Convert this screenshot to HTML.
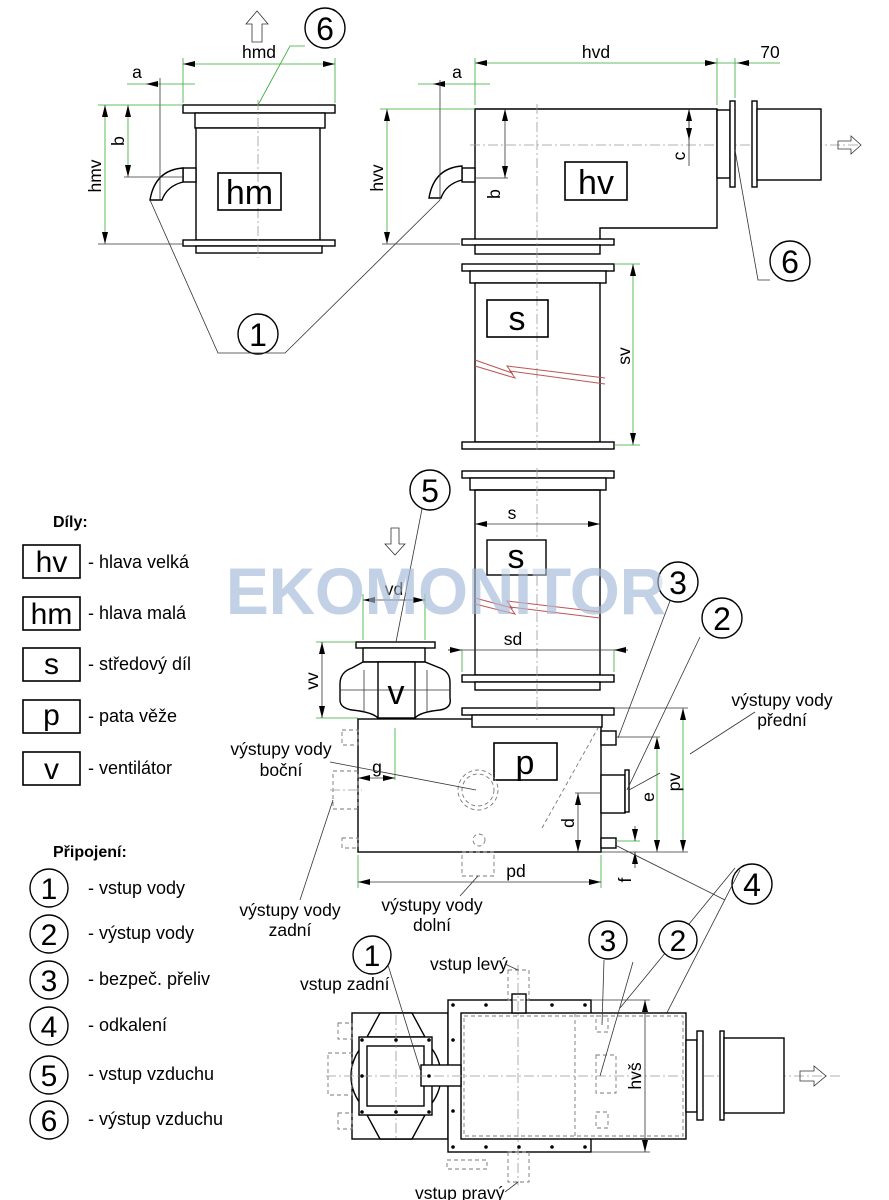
<!DOCTYPE html>
<html><head><meta charset="utf-8"><style>
html,body{margin:0;padding:0;background:#fff}
svg{display:block}
text{font-family:"Liberation Sans",Arial,sans-serif;fill:#000}
.k{stroke:#000;stroke-width:1.6;fill:none}
.kf{stroke:#000;stroke-width:1.4;fill:#fff}
.kn{stroke:#000;stroke-width:1.4;fill:none}
.d{stroke:#777;stroke-width:0.9;fill:none;stroke-dasharray:4 3}
.c{stroke:#999;stroke-width:0.8;fill:none;stroke-dasharray:10 3 2 3}
.g{stroke:#3a3;stroke-width:0.8;fill:none}
.l{stroke:#333;stroke-width:0.8;fill:none}
.t{font-size:17.5px}
.lg{font-size:18px}
.b{font-size:34px}
</style></head><body>
<svg width="889" height="1200" viewBox="0 0 889 1200" xmlns="http://www.w3.org/2000/svg">
<defs>
<marker id="a" markerWidth="12" markerHeight="6" refX="12" refY="3" orient="auto-start-reverse" markerUnits="userSpaceOnUse"><path d="M0,0 L12,3 L0,6 z" fill="#000"/></marker>
</defs>

<!-- watermark -->
<text x="226" y="614" style="font-size:66px;font-weight:bold;fill:#c3d1e6" textLength="440" lengthAdjust="spacingAndGlyphs">EKOMONITOR</text>

<!-- ===== hm ===== -->
<path d="M252,42 h10 v-18 h6 l-11,-13 l-11,13 h6 z" class="l" fill="#fff"/>
<rect x="183" y="105" width="152" height="8" class="kf"/>
<rect x="195" y="113" width="130" height="15" class="kf"/>
<rect x="196" y="128" width="124" height="112" class="kf"/>
<rect x="183" y="240" width="152" height="6" class="kf"/>
<rect x="196" y="246" width="126" height="7" class="kf"/>
<line x1="258" y1="100" x2="258" y2="258" class="c"/>
<rect x="218" y="173" width="63" height="37" class="k"/>
<text x="249.5" y="204" class="b" text-anchor="middle">hm</text>
<rect x="183" y="168" width="13" height="14" class="kf"/>
<path d="M183,168 q-28,2 -33,32 h12 q5,-14 21,-18 z" class="kf"/>
<line x1="183" y1="58" x2="183" y2="103" class="g"/>
<line x1="335" y1="58" x2="335" y2="103" class="g"/>
<line x1="183" y1="64" x2="335" y2="64" class="g" marker-start="url(#a)" marker-end="url(#a)"/>
<text x="259" y="58" class="t" text-anchor="middle">hmd</text>
<line x1="127" y1="84" x2="195" y2="84" class="g"/>
<line x1="158" y1="84" x2="146" y2="84" class="g" marker-end="url(#a)"/>
<line x1="160" y1="78" x2="160" y2="200" class="l"/>
<text x="137" y="78" class="t" text-anchor="middle">a</text>
<line x1="98" y1="105" x2="183" y2="105" class="g"/>
<line x1="98" y1="244" x2="183" y2="244" class="l"/>
<line x1="105" y1="105" x2="105" y2="244" class="g" marker-start="url(#a)" marker-end="url(#a)"/>
<text transform="translate(101,176) rotate(-90)" class="t" text-anchor="middle">hmv</text>
<line x1="128" y1="105" x2="128" y2="177" class="g" marker-start="url(#a)" marker-end="url(#a)"/>
<line x1="124" y1="177" x2="183" y2="177" class="l"/>
<text transform="translate(124,141) rotate(-90)" class="t" text-anchor="middle">b</text>
<circle cx="325" cy="28" r="20" class="kf"/>
<text x="325" y="40" style="font-size:32px" text-anchor="middle">6</text>
<polyline points="305,46 290,46 258,105" class="g"/>

<!-- ===== hv ===== -->
<path d="M475,109 H717 V228 H600 V243 H475 Z" class="kf"/>
<rect x="462" y="239" width="152" height="6" class="kf"/>
<rect x="475" y="245" width="125" height="9" class="kf"/>
<line x1="537" y1="104" x2="537" y2="260" class="c"/>
<line x1="470" y1="145" x2="860" y2="145" class="c"/>
<rect x="565" y="162" width="62" height="38" class="k"/>
<text x="596" y="194" class="b" text-anchor="middle">hv</text>
<rect x="717" y="110" width="13" height="68" class="kf"/>
<rect x="730" y="101" width="5" height="86" class="kf"/>
<rect x="752" y="101" width="5" height="86" class="kf"/>
<rect x="757" y="109" width="64" height="71" class="kf"/>
<path d="M838,141 h13 v-5 l10,9 l-10,9 v-5 h-13 z" class="l" fill="#fff"/>
<rect x="462" y="168" width="13" height="14" class="kf"/>
<path d="M462,166 q-28,2 -33,32 h12 q5,-14 21,-18 z" class="kf"/>
<line x1="475" y1="58" x2="475" y2="105" class="g"/>
<line x1="717" y1="58" x2="717" y2="105" class="g"/>
<line x1="735" y1="58" x2="735" y2="98" class="g"/>
<line x1="475" y1="63" x2="717" y2="63" class="g" marker-start="url(#a)" marker-end="url(#a)"/>
<line x1="717" y1="63" x2="780" y2="63" class="g"/>
<line x1="750" y1="63" x2="737" y2="63" class="g" marker-end="url(#a)"/>
<text x="596" y="58" class="t" text-anchor="middle">hvd</text>
<text x="770" y="58" class="t" text-anchor="middle">70</text>
<line x1="418" y1="84" x2="490" y2="84" class="g"/>
<line x1="445" y1="84" x2="433" y2="84" class="g" marker-end="url(#a)"/>
<line x1="440" y1="80" x2="440" y2="200" class="l"/>
<text x="457" y="78" class="t" text-anchor="middle">a</text>
<line x1="380" y1="109" x2="475" y2="109" class="g"/>
<line x1="382" y1="244" x2="460" y2="244" class="l"/>
<line x1="387" y1="109" x2="387" y2="244" class="g" marker-start="url(#a)" marker-end="url(#a)"/>
<text transform="translate(383,178) rotate(-90)" class="t" text-anchor="middle">hvv</text>
<line x1="505" y1="109" x2="505" y2="178" class="l" marker-start="url(#a)" marker-end="url(#a)"/>
<line x1="475" y1="178" x2="508" y2="178" class="l"/>
<text transform="translate(500,194) rotate(-90)" class="t" text-anchor="middle">b</text>
<line x1="689" y1="109" x2="689" y2="166" class="l"/>
<line x1="689" y1="109" x2="689" y2="140" class="l" marker-start="url(#a)" marker-end="url(#a)"/>
<text transform="translate(685,156) rotate(-90)" class="t" text-anchor="middle">c</text>
<circle cx="790" cy="261" r="20" class="kf"/>
<text x="790" y="273" style="font-size:32px" text-anchor="middle">6</text>
<polyline points="770,280 758,280 735,150" class="l"/>
<circle cx="258" cy="334" r="20" class="kf"/>
<text x="258" y="346" style="font-size:32px" text-anchor="middle">1</text>
<polyline points="150,200 218,353 285,353 440,200" class="l"/>

<!-- ===== s1 ===== -->
<rect x="462" y="264" width="152" height="7" class="kf"/>
<rect x="470" y="271" width="136" height="12" class="kf"/>
<rect x="475" y="283" width="125" height="159" class="kf"/>
<rect x="462" y="442" width="152" height="7" class="kf"/>
<line x1="537" y1="260" x2="537" y2="452" class="c"/>
<rect x="487" y="300" width="61" height="37" class="k"/>
<text x="517" y="330" class="b" text-anchor="middle">s</text>
<path d="M475,360 L512,373 L507,366 L605,378 M475,366 L515,378 L510,371 L605,384" stroke="#b55" stroke-width="1" fill="none"/>
<line x1="614" y1="264" x2="640" y2="264" class="g"/>
<line x1="614" y1="445" x2="640" y2="445" class="g"/>
<line x1="633" y1="264" x2="633" y2="445" class="g" marker-start="url(#a)" marker-end="url(#a)"/>
<text transform="translate(630,356) rotate(-90)" class="t" text-anchor="middle">sv</text>

<!-- ===== s2 ===== -->
<rect x="462" y="471" width="152" height="7" class="kf"/>
<rect x="470" y="478" width="136" height="12" class="kf"/>
<rect x="475" y="490" width="125" height="185" class="kn"/>
<rect x="462" y="675" width="152" height="7" class="kf"/>
<rect x="475" y="682" width="125" height="8" class="kf"/>
<line x1="537" y1="468" x2="537" y2="720" class="c"/>
<rect x="487" y="540" width="59" height="35" class="kf"/>
<text x="516" y="568" class="b" text-anchor="middle">s</text>
<path d="M475,598 L512,608 L507,601 L600,612 M475,604 L515,614 L510,607 L600,618" stroke="#b55" stroke-width="1" fill="none"/>
<line x1="475" y1="524" x2="600" y2="524" class="l" marker-start="url(#a)" marker-end="url(#a)"/>
<text x="512" y="519" class="t" text-anchor="middle">s</text>
<line x1="448" y1="650" x2="628" y2="650" class="l"/>
<line x1="448" y1="650" x2="462" y2="650" class="l" marker-end="url(#a)"/>
<line x1="628" y1="650" x2="614" y2="650" class="l" marker-end="url(#a)"/>
<line x1="462" y1="650" x2="462" y2="672" class="g"/>
<line x1="614" y1="650" x2="614" y2="672" class="g"/>
<text x="513" y="645" class="t" text-anchor="middle">sd</text>

<!-- ===== v ===== -->
<rect x="356" y="642" width="79" height="6" class="kf"/>
<rect x="363" y="648" width="62" height="14" class="kf"/>
<path d="M363,662 L352,668 Q340,672 340,684 V700 Q340,708 352,710 Q372,712 378,718 H415 Q420,712 440,710 Q452,708 450,698 V682 Q450,672 440,668 L425,662 Z" class="kf"/>
<rect x="378" y="662" width="37" height="56" class="kf"/>
<line x1="364" y1="670" x2="364" y2="712" class="l"/><line x1="427" y1="670" x2="427" y2="712" class="l"/>
<line x1="340" y1="690" x2="450" y2="690" class="l"/>
<text x="396" y="704" class="b" text-anchor="middle">v</text>
<line x1="363" y1="594" x2="363" y2="640" class="g"/>
<line x1="425" y1="594" x2="425" y2="640" class="g"/>
<line x1="363" y1="600" x2="425" y2="600" class="l" marker-start="url(#a)" marker-end="url(#a)"/>
<text x="394" y="595" class="t" text-anchor="middle">vd</text>
<line x1="316" y1="642" x2="356" y2="642" class="g"/>
<line x1="316" y1="718" x2="358" y2="718" class="g"/>
<line x1="322" y1="642" x2="322" y2="718" class="l" marker-start="url(#a)" marker-end="url(#a)"/>
<text transform="translate(318,681) rotate(-90)" class="t" text-anchor="middle">vv</text>
<path d="M391,528 h8 v16 h6 l-10,11 l-10,-11 h6 z" class="l" fill="#fff"/>
<circle cx="430" cy="490" r="20" class="kf"/>
<text x="430" y="502" style="font-size:32px" text-anchor="middle">5</text>
<line x1="422" y1="509" x2="396" y2="642" class="l"/>

<!-- ===== p ===== -->
<rect x="358" y="719" width="243" height="133" class="kf"/>
<rect x="462" y="708" width="152" height="7" class="kf"/>
<rect x="472" y="715" width="130" height="12" class="kf"/>
<line x1="537" y1="700" x2="537" y2="720" class="c"/>
<rect x="494" y="743" width="63" height="37" class="k"/>
<text x="525" y="774" class="b" text-anchor="middle">p</text>
<circle cx="478" cy="790" r="20" class="d"/>
<circle cx="478" cy="790" r="16" class="d"/>
<circle cx="479" cy="840" r="6" class="d"/>
<line x1="542" y1="828" x2="598" y2="728" class="d"/>
<rect x="462" y="852" width="32" height="24" class="d"/>
<rect x="342" y="730" width="16" height="15" class="d"/>
<rect x="333" y="771" width="25" height="38" class="d"/>
<rect x="342" y="838" width="16" height="10" class="d"/>
<line x1="330" y1="790" x2="362" y2="790" class="c"/>
<rect x="601" y="731" width="15" height="14" class="kf"/>
<rect x="601" y="775" width="24" height="38" class="kf"/>
<rect x="625" y="770" width="4" height="42" class="kf"/>
<rect x="601" y="838" width="15" height="10" class="kf"/>
<line x1="358" y1="855" x2="358" y2="888" class="g"/>
<line x1="601" y1="855" x2="601" y2="888" class="g"/>
<line x1="358" y1="882" x2="601" y2="882" class="l" marker-start="url(#a)" marker-end="url(#a)"/>
<text x="516" y="877" class="t" text-anchor="middle">pd</text>
<line x1="395" y1="728" x2="395" y2="780" class="g"/>
<line x1="358" y1="778" x2="395" y2="778" class="l" marker-start="url(#a)" marker-end="url(#a)"/>
<text x="377" y="773" class="t" text-anchor="middle">g</text>
<line x1="575" y1="793" x2="601" y2="793" class="l"/>
<line x1="578" y1="793" x2="578" y2="852" class="l" marker-start="url(#a)" marker-end="url(#a)"/>
<text transform="translate(574,823) rotate(-90)" class="t" text-anchor="middle">d</text>
<line x1="614" y1="708" x2="688" y2="708" class="l"/>
<line x1="601" y1="852" x2="688" y2="852" class="l"/>
<line x1="616" y1="737" x2="660" y2="737" class="l"/>
<line x1="657" y1="737" x2="657" y2="852" class="g" marker-start="url(#a)" marker-end="url(#a)"/>
<text transform="translate(654,797) rotate(-90)" class="t" text-anchor="middle">e</text>
<line x1="683" y1="708" x2="683" y2="852" class="g" marker-start="url(#a)" marker-end="url(#a)"/>
<text transform="translate(680,782) rotate(-90)" class="t" text-anchor="middle">pv</text>
<line x1="616" y1="841" x2="640" y2="841" class="g"/>
<line x1="635" y1="826" x2="635" y2="841" class="l" marker-end="url(#a)"/>
<line x1="635" y1="868" x2="635" y2="852" class="l" marker-end="url(#a)"/>
<text transform="translate(631,880) rotate(-90)" class="t" text-anchor="middle">f</text>
<circle cx="678" cy="582" r="20" class="kf"/>
<text x="678" y="594" style="font-size:32px" text-anchor="middle">3</text>
<line x1="670" y1="601" x2="618" y2="738" class="l"/>
<circle cx="722" cy="618" r="20" class="kf"/>
<text x="722" y="630" style="font-size:32px" text-anchor="middle">2</text>
<line x1="700" y1="637" x2="627" y2="790" class="l"/>
<circle cx="752" cy="884" r="20" class="kf"/>
<text x="752" y="896" style="font-size:32px" text-anchor="middle">4</text>
<line x1="615" y1="845" x2="725" y2="900" class="l"/>
<line x1="735" y1="868" x2="620" y2="1008" class="l"/>
<line x1="740" y1="870" x2="630" y2="1085" class="l"/>
<line x1="755" y1="712" x2="690" y2="754" class="l"/>
<line x1="660" y1="773" x2="629" y2="790" class="l"/>
<text x="782" y="706" class="t" text-anchor="middle">výstupy vody</text>
<text x="782" y="726" class="t" text-anchor="middle">přední</text>
<text x="281" y="755" class="t" text-anchor="middle">výstupy vody</text>
<text x="281" y="776" class="t" text-anchor="middle">boční</text>
<line x1="330" y1="762" x2="476" y2="790" class="l"/>
<text x="290" y="916" class="t" text-anchor="middle">výstupy vody</text>
<text x="290" y="936" class="t" text-anchor="middle">zadní</text>
<line x1="300" y1="900" x2="333" y2="800" class="l"/>
<text x="432" y="911" class="t" text-anchor="middle">výstupy vody</text>
<text x="432" y="931" class="t" text-anchor="middle">dolní</text>
<line x1="460" y1="896" x2="478" y2="876" class="l"/>

<!-- ===== legend ===== -->
<text x="53" y="527" style="font-size:16px;font-weight:bold">Díly:</text>
<g>
<rect x="23" y="545" width="57" height="33" class="k"/><text x="51.5" y="572" text-anchor="middle" style="font-size:30px">hv</text><text x="88" y="568" class="lg">- hlava velká</text>
<rect x="23" y="597" width="57" height="33" class="k"/><text x="51.5" y="624" text-anchor="middle" style="font-size:30px">hm</text><text x="88" y="619" class="lg">- hlava malá</text>
<rect x="23" y="648" width="57" height="33" class="k"/><text x="51.5" y="674" text-anchor="middle" style="font-size:30px">s</text><text x="88" y="670" class="lg">- středový díl</text>
<rect x="23" y="700" width="57" height="33" class="k"/><text x="51.5" y="725" text-anchor="middle" style="font-size:30px">p</text><text x="88" y="722" class="lg">- pata věže</text>
<rect x="23" y="752" width="57" height="33" class="k"/><text x="51.5" y="779" text-anchor="middle" style="font-size:30px">v</text><text x="88" y="774" class="lg">- ventilátor</text>
</g>
<text x="53" y="857" style="font-size:16px;font-weight:bold">Připojení:</text>
<g>
<circle cx="49" cy="888" r="19" class="kf"/><text x="49" y="899" style="font-size:30px" text-anchor="middle">1</text><text x="88" y="894" class="lg">- vstup vody</text>
<circle cx="49" cy="934" r="19" class="kf"/><text x="49" y="945" style="font-size:30px" text-anchor="middle">2</text><text x="88" y="939" class="lg">- výstup vody</text>
<circle cx="49" cy="980" r="19" class="kf"/><text x="49" y="991" style="font-size:30px" text-anchor="middle">3</text><text x="88" y="985" class="lg">- bezpeč. přeliv</text>
<circle cx="49" cy="1026" r="19" class="kf"/><text x="49" y="1037" style="font-size:30px" text-anchor="middle">4</text><text x="88" y="1031" class="lg">- odkalení</text>
<circle cx="49" cy="1075" r="19" class="kf"/><text x="49" y="1086" style="font-size:30px" text-anchor="middle">5</text><text x="88" y="1080" class="lg">- vstup vzduchu</text>
<circle cx="49" cy="1120" r="19" class="kf"/><text x="49" y="1131" style="font-size:30px" text-anchor="middle">6</text><text x="88" y="1125" class="lg">- výstup vzduchu</text>
</g>

<!-- ===== bottom view ===== -->
<rect x="352" y="1013" width="96" height="126" class="kf"/>
<circle cx="396" cy="1076" r="45" class="kf"/>
<path d="M380,1013 H412 L425,1037 H367 Z M367,1115 H425 L412,1139 H380 Z" class="kf"/>
<rect x="359" y="1037" width="73" height="78" class="kf"/>
<rect x="367" y="1046" width="57" height="60" class="kf"/>
<rect x="448" y="1000" width="143" height="152" class="kf"/>
<rect x="461" y="1013" width="225" height="126" class="kf"/>
<rect x="464" y="1016" width="219" height="120" class="d"/>
<line x1="575" y1="1013" x2="575" y2="1139" class="d"/>
<rect x="421" y="1065" width="40" height="21" class="kf"/>
<rect x="512" y="994" width="14" height="19" class="kf"/>
<rect x="508" y="970" width="21" height="30" class="d"/>
<rect x="508" y="1152" width="21" height="30" class="d"/>
<rect x="338" y="1023" width="14" height="16" class="d"/>
<rect x="328" y="1053" width="24" height="42" class="d"/>
<rect x="338" y="1113" width="14" height="16" class="d"/>
<rect x="447" y="1160" width="40" height="9" class="d"/>
<rect x="596" y="1016" width="12" height="16" class="d"/>
<rect x="596" y="1055" width="20" height="38" class="d"/>
<rect x="596" y="1112" width="12" height="16" class="d"/>
<line x1="326" y1="1076" x2="840" y2="1076" class="c"/>
<line x1="518" y1="965" x2="518" y2="1185" class="c"/>
<line x1="396" y1="1015" x2="396" y2="1138" class="c"/>
<g fill="#000">
<circle cx="362" cy="1040" r="1.8"/><circle cx="396" cy="1040" r="1.8"/><circle cx="429" cy="1040" r="1.8"/>
<circle cx="362" cy="1112" r="1.8"/><circle cx="396" cy="1112" r="1.8"/><circle cx="429" cy="1112" r="1.8"/>
<circle cx="362" cy="1076" r="1.8"/><circle cx="429" cy="1076" r="1.8"/>
<circle cx="453" cy="1005" r="1.8"/><circle cx="486" cy="1005" r="1.8"/><circle cx="552" cy="1005" r="1.8"/><circle cx="585" cy="1005" r="1.8"/>
<circle cx="453" cy="1147" r="1.8"/><circle cx="486" cy="1147" r="1.8"/><circle cx="519" cy="1147" r="1.8"/><circle cx="552" cy="1147" r="1.8"/><circle cx="585" cy="1147" r="1.8"/>
<circle cx="453" cy="1040" r="1.8"/><circle cx="453" cy="1111" r="1.8"/>
</g>
<rect x="686" y="1040" width="11" height="72" class="kf"/>
<rect x="697" y="1031" width="6" height="89" class="kf"/>
<rect x="720" y="1031" width="4" height="89" class="kf"/>
<rect x="724" y="1038" width="60" height="75" class="kf"/>
<path d="M800,1071 h14 v-5 l12,10 l-12,10 v-5 h-14 z" class="l" fill="#fff"/>
<line x1="591" y1="1000" x2="650" y2="1000" class="l"/>
<line x1="591" y1="1152" x2="650" y2="1152" class="l"/>
<line x1="645" y1="1000" x2="645" y2="1152" class="l" marker-start="url(#a)" marker-end="url(#a)"/>
<text transform="translate(641,1076) rotate(-90)" class="t" text-anchor="middle">hvš</text>
<circle cx="372" cy="955" r="19" class="kf"/><text x="372" y="966" style="font-size:30px" text-anchor="middle">1</text>
<line x1="388" y1="965" x2="421" y2="1072" class="l"/>
<circle cx="608" cy="940" r="19" class="kf"/><text x="608" y="951" style="font-size:30px" text-anchor="middle">3</text>
<line x1="604" y1="960" x2="602" y2="1025" class="l"/>
<circle cx="678" cy="940" r="19" class="kf"/><text x="678" y="951" style="font-size:30px" text-anchor="middle">2</text>
<line x1="633" y1="962" x2="600" y2="1076" class="l"/>
<text x="300" y="990" class="t">vstup zadní</text>
<text x="430" y="970" class="t">vstup levý</text>
<line x1="505" y1="964" x2="518" y2="970" class="l"/>
<text x="415" y="1199" class="t">vstup pravý</text>
<line x1="505" y1="1192" x2="518" y2="1182" class="l"/>

<!-- watermark overlay over s section -->
<text x="226" y="614" style="font-size:66px;font-weight:bold;fill:#c3d1e6;opacity:0.55" textLength="440" lengthAdjust="spacingAndGlyphs">EKOMONITOR</text>
</svg>
</body></html>
